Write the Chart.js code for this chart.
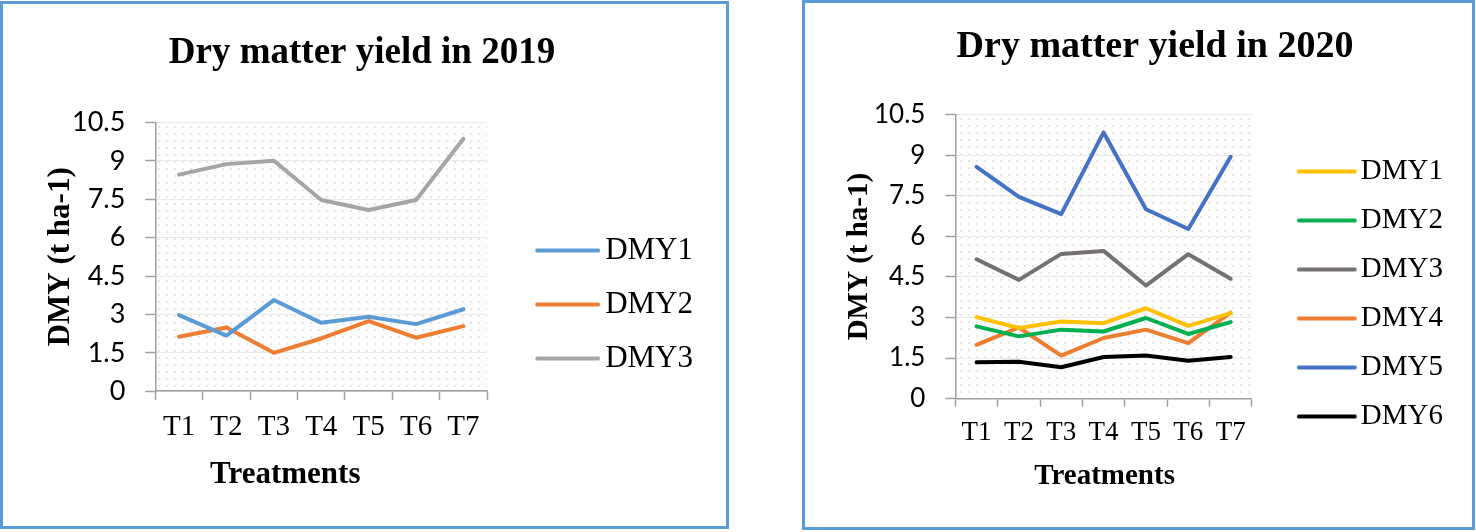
<!DOCTYPE html>
<html>
<head>
<meta charset="utf-8">
<script src="https://cdn.jsdelivr.net/npm/chart.js@4.4.1/dist/chart.umd.min.js"></script>
<style>
    html, body { margin: 0; padding: 0; background: #ffffff; }
    body { width: 1476px; height: 532px; position: relative; overflow: hidden; }
    .panel { position: absolute; border: 3px solid #5b9bd5; background: #ffffff; }
    #panel2019 { left: 0; top: 1px; width: 723px; height: 522px; }
    #panel2020 { left: 802px; top: 0; width: 667px; height: 524px; }
    canvas { display: block; }
</style>
</head>
<body>
<div class="panel" id="panel2019"><canvas id="chart2019" width="723" height="522"></canvas></div>
<div class="panel" id="panel2020"><canvas id="chart2020" width="667" height="524"></canvas></div>

<script>
    // --- data ---
    const treatments = ['T1', 'T2', 'T3', 'T4', 'T5', 'T6', 'T7'];
    const yTicks = [0, 1.5, 3, 4.5, 6, 7.5, 9, 10.5];

    const dmy1_2019 = [2.97, 2.17, 3.56, 2.67, 2.91, 2.62, 3.20];
    const dmy2_2019 = [2.13, 2.49, 1.50, 2.06, 2.74, 2.09, 2.54];
    const dmy3_2019 = [8.46, 8.87, 9.00, 7.47, 7.08, 7.47, 9.86];

    const dmy1_2020 = [3.01, 2.61, 2.85, 2.79, 3.34, 2.69, 3.16];
    const dmy2_2020 = [2.67, 2.30, 2.55, 2.48, 2.98, 2.39, 2.83];
    const dmy3_2020 = [5.15, 4.39, 5.35, 5.46, 4.18, 5.34, 4.43];
    const dmy4_2020 = [1.99, 2.63, 1.59, 2.24, 2.55, 2.05, 3.18];
    const dmy5_2020 = [8.57, 7.46, 6.82, 9.84, 7.00, 6.27, 8.94];
    const dmy6_2020 = [1.34, 1.36, 1.16, 1.54, 1.59, 1.40, 1.54];

    const SERIF = "'Liberation Serif', 'Times New Roman', serif";
    const SANS = "Lato, 'Open Sans', sans-serif";
    const AXIS_GRAY = '#a0a0a0';

    // dotted plot background, like the Excel pattern fill
    function _MakePattern(ctx) {
        let tile = document.createElement('canvas');
        tile.width = 8;
        tile.height = 7;
        let t = tile.getContext('2d');
        t.fillStyle = '#fdfdfd';
        t.fillRect(0, 0, 8, 7);
        t.fillStyle = '#e6e6e6';
        t.fillRect(3, 3, 2, 2);
        return ctx.createPattern(tile, 'repeat');
    }

    const plotPattern = {
        id: 'plotPattern',
        beforeDraw(chart) {
            const {ctx, chartArea} = chart;
            ctx.save();
            ctx.fillStyle = _MakePattern(ctx);
            ctx.fillRect(chartArea.left, chartArea.top, chartArea.right - chartArea.left, chartArea.bottom - chartArea.top);
            ctx.restore();
        }
    };

    // x axis caption, drawn with a horizontal offset from the plot centre
    const axisCaption = {
        id: 'axisCaption',
        afterDraw(chart, args, opts) {
            const {ctx, chartArea} = chart;
            ctx.save();
            ctx.font = 'bold ' + opts.size + 'px ' + SERIF;
            ctx.fillStyle = '#000000';
            ctx.textAlign = 'center';
            ctx.textBaseline = 'middle';
            ctx.fillText(opts.text, (chartArea.left + chartArea.right) / 2 + opts.dx, opts.y);
            ctx.restore();
        }
    };

    // legend swatch: a line of given length, placed "offset" px after the item start,
    // with the label starting "gap" px after the line
    function _LegendLine(color, len, offset, gap, fontSize) {
        let bw = offset + len + gap - fontSize / 2;
        let a = offset - bw / 2;
        let b = offset + len - bw / 2;
        let half = Math.ceil(Math.max(Math.abs(a), Math.abs(b))) + 4;
        let c = document.createElement('canvas');
        c.width = half * 2;
        c.height = 10;
        let g = c.getContext('2d');
        g.strokeStyle = color;
        g.lineWidth = 4;
        g.lineCap = 'round';
        g.beginPath();
        g.moveTo(half + a + 2, 5);
        g.lineTo(half + b - 2, 5);
        g.stroke();
        return c;
    }

    function _Dataset(label, data, color, legend) {
        return {
            label: label,
            data: data,
            borderColor: color,
            backgroundColor: color,
            borderWidth: 4,
            borderJoinStyle: 'round',
            borderCapStyle: 'round',
            pointRadius: 0,
            pointHoverRadius: 0,
            pointStyle: _LegendLine(color, legend.len, legend.offset, legend.gap, legend.fontSize),
            tension: 0,
            fill: false
        };
    }

    function _BuildChart(canvasId, cfg) {
        let context = document.getElementById(canvasId).getContext('2d');
        let legend = cfg.legend;

        return new Chart(context, {
            type: 'line',
            data: {
                labels: treatments,
                datasets: cfg.series.map(s => _Dataset(s.label, s.data, s.color, legend))
            },
            plugins: [plotPattern, axisCaption],
            options: {
                responsive: false,
                animation: false,
                layout: { padding: cfg.padding },
                plugins: {
                    title: {
                        display: true,
                        text: cfg.title,
                        color: '#000000',
                        font: { family: SERIF, size: cfg.titleSize, weight: 'bold', lineHeight: 1.2 },
                        padding: cfg.titlePadding
                    },
                    legend: {
                        display: true,
                        position: 'right',
                        align: 'start',
                        maxWidth: 400,
                        title: {
                            display: true,
                            text: '',
                            font: { size: 1, lineHeight: 1 },
                            padding: { top: legend.top, bottom: 0 }
                        },
                        labels: {
                            usePointStyle: true,
                            pointStyleWidth: legend.offset + legend.len + legend.gap - legend.fontSize / 2,
                            boxHeight: 4,
                            padding: legend.padding,
                            color: '#000000',
                            font: { family: SERIF, size: legend.fontSize }
                        }
                    },
                    tooltip: { enabled: false },
                    axisCaption: cfg.caption
                },
                scales: {
                    x: {
                        offset: true,
                        grid: {
                            offset: true,
                            drawOnChartArea: false,
                            tickLength: cfg.xTickLength,
                            tickColor: AXIS_GRAY,
                            tickWidth: 1.5
                        },
                        border: { color: AXIS_GRAY, width: 1.5 },
                        ticks: {
                            color: '#000000',
                            padding: 10,
                            maxRotation: 0,
                            font: { family: SERIF, size: cfg.xTickSize }
                        }
                    },
                    y: {
                        min: 0,
                        max: 10.5,
                        afterBuildTicks: function (scale) {
                            scale.ticks = yTicks.map(v => ({ value: v }));
                        },
                        grid: {
                            color: '#e9e9e9',
                            lineWidth: 1,
                            tickLength: 10,
                            tickColor: AXIS_GRAY,
                            tickWidth: 1.5
                        },
                        border: { color: AXIS_GRAY, width: 1.5 },
                        ticks: {
                            color: '#000000',
                            padding: 20,
                            font: { family: SANS, size: cfg.yTickSize }
                        },
                        title: {
                            display: true,
                            text: 'DMY (t ha-1)',
                            color: '#000000',
                            font: { family: SERIF, size: cfg.yTitleSize, weight: 'bold', lineHeight: 1 },
                            padding: cfg.yTitlePadding
                        }
                    }
                }
            }
        });
    }

    _BuildChart('chart2019', {
        title: 'Dry matter yield in 2019',
        titleSize: 37,
        titlePadding: { top: 27, bottom: 47 },
        padding: { left: 18, right: 23, top: 0, bottom: 71 },
        xTickSize: 29,
        xTickLength: 9,
        yTickSize: 27,
        yTitleSize: 31,
        yTitlePadding: { top: 24, bottom: -24 },
        caption: { text: 'Treatments', size: 31, dx: -36, y: 471 },
        legend: { fontSize: 31, padding: 23, len: 65, offset: 25, gap: 5, top: 207 },
        series: [
            { label: 'DMY1', data: dmy1_2019, color: '#5b9bd5' },
            { label: 'DMY2', data: dmy2_2019, color: '#ed7d31' },
            { label: 'DMY3', data: dmy3_2019, color: '#a5a5a5' }
        ]
    });

    _BuildChart('chart2020', {
        title: 'Dry matter yield in 2020',
        titleSize: 38,
        titlePadding: { top: 21, bottom: 45 },
        padding: { left: 52, right: 19, top: 0, bottom: 68 },
        xTickSize: 27,
        xTickLength: 8,
        yTickSize: 26,
        yTitleSize: 29,
        yTitlePadding: { top: -12, bottom: -20 },
        caption: { text: 'Treatments', size: 29, dx: 1, y: 474 },
        legend: { fontSize: 29, padding: 20, len: 60, offset: 25, gap: 4, top: 133 },
        series: [
            { label: 'DMY1', data: dmy1_2020, color: '#ffc000' },
            { label: 'DMY2', data: dmy2_2020, color: '#00b050' },
            { label: 'DMY3', data: dmy3_2020, color: '#767171' },
            { label: 'DMY4', data: dmy4_2020, color: '#ed7d31' },
            { label: 'DMY5', data: dmy5_2020, color: '#4472c4' },
            { label: 'DMY6', data: dmy6_2020, color: '#000000' }
        ]
    });
</script>
</body>
</html>
